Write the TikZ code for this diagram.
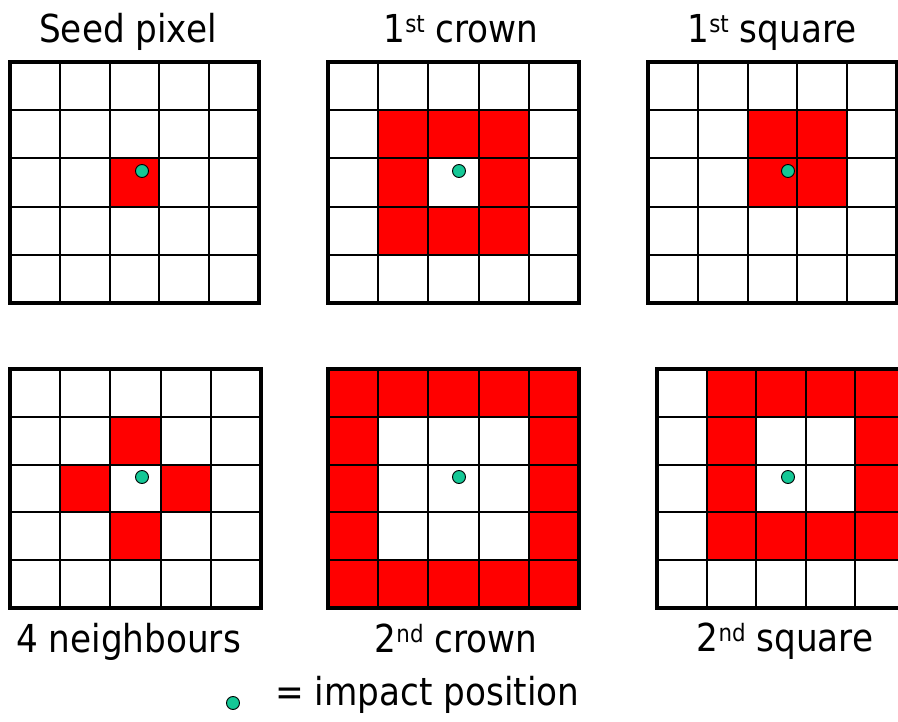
\documentclass[tikz,border=0pt]{standalone}
\usepackage{fontspec}
\setmainfont{DejaVu Sans}[FakeStretch=0.89]
\definecolor{impactgreen}{RGB}{20,200,150}
\newcommand\supx[1]{\raisebox{10pt}{\fontsize{24}{24}\selectfont #1}}
\newcommand\pixgrid[5]{%
  \pgfmathsetmacro\gw{(#3-#1)/5}%
  \pgfmathsetmacro\gh{(#4-#2)/5}%
  \foreach \c/\r in {#5} {\fill[redcell] (#1+\c*\gw,#2+\r*\gh) rectangle ++(\gw,\gh);}
  \foreach \i in {1,...,4} {%
    \draw[gridline] (#1+\i*\gw,#2) -- (#1+\i*\gw,#4);
    \draw[gridline] (#1,#2+\i*\gh) -- (#3,#2+\i*\gh);}
  \draw[frame] (#1,#2) rectangle (#3,#4);
}
\begin{document}
\begin{tikzpicture}[x=1pt,y=-1pt,
  redcell/.style={fill=red},
  gridline/.style={line width=2.1pt,black},
  frame/.style={line width=4pt,black},
  impact/.style={circle,draw=black,line width=0.9pt,fill=impactgreen,minimum size=13pt,inner sep=0pt},
  lab/.style={inner sep=0pt,font=\fontsize{38.5}{40}\selectfont}]
\useasboundingbox (0,0) rectangle (898,722);
\begin{scope}
\clip (0,0) rectangle (898,722);
\pixgrid{10}{62}{259}{303}{2/2}
\pixgrid{328}{62}{579}{303}{1/1,2/1,3/1,1/2,3/2,1/3,2/3,3/3}
\pixgrid{648}{62}{897}{303}{2/1,3/1,2/2,3/2}
\pixgrid{10}{369}{261}{608}{2/1,1/2,3/2,2/3}
\pixgrid{328}{369}{579}{608}{0/0,1/0,2/0,3/0,4/0,0/4,1/4,2/4,3/4,4/4,0/1,0/2,0/3,4/1,4/2,4/3}
\pixgrid{657}{369}{905}{608}{1/0,2/0,3/0,4/0,1/1,4/1,1/2,4/2,1/3,2/3,3/3,4/3}
\end{scope}
\node[impact] (d1) at (142,171) {};
\node[impact] (d2) at (459,171) {};
\node[impact] (d3) at (788,171) {};
\node[impact] (d4) at (142,477) {};
\node[impact] (d5) at (459,477) {};
\node[impact] (d6) at (788,477) {};
\node[lab,anchor=base] (t1) at (128,43) {Seed pixel};
\node[lab,anchor=base] (t2) at (461,43) {1\supx{st} crown};
\node[lab,anchor=base] (t3) at (772,43) {1\supx{st} square};
\node[lab,anchor=base] (b1) at (128.5,652) {4 neighbours};
\node[lab,anchor=base] (b2) at (456,652) {2\supx{nd} crown};
\node[lab,anchor=base] (b3) at (785,651) {2\supx{nd} square};
\node[impact] (dl) at (233,703) {};
\node[lab,anchor=base west] (leg) at (275,705) {= impact position};
\end{tikzpicture}
\end{document}
